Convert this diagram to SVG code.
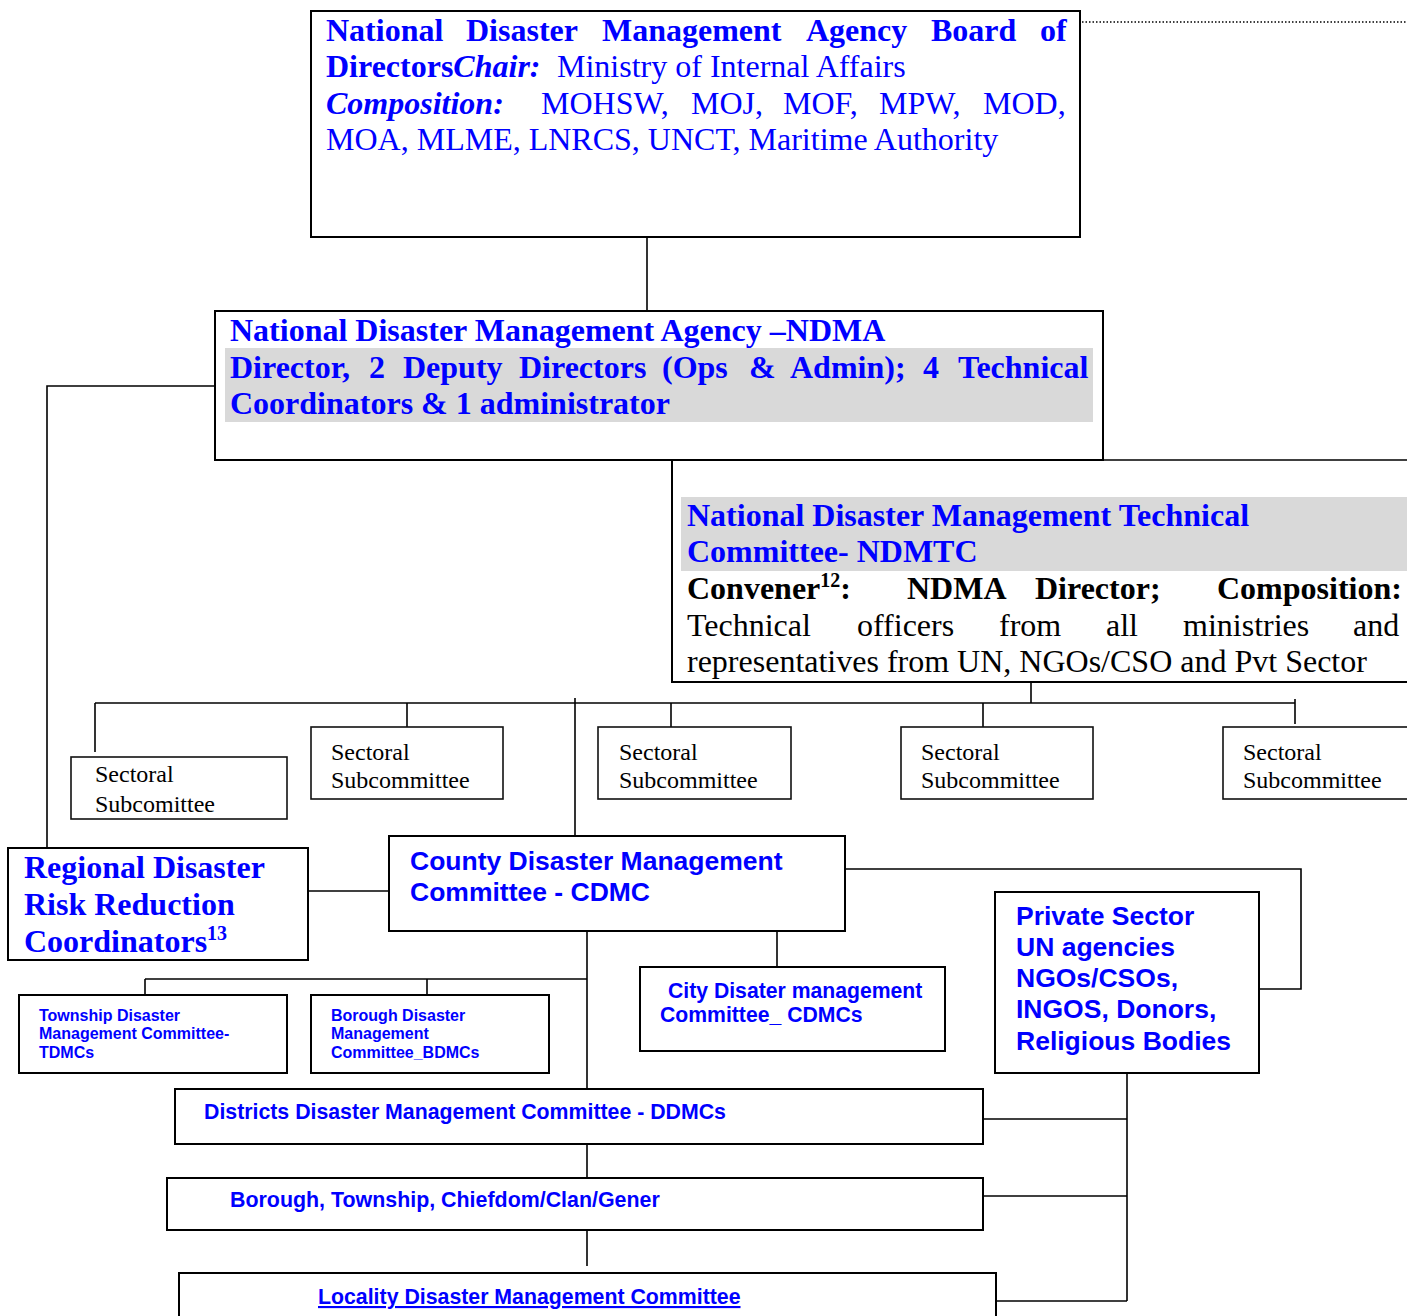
<svg xmlns="http://www.w3.org/2000/svg" width="1407" height="1316" viewBox="0 0 1407 1316">
<style>
.box{fill:#fff;stroke:#000;stroke-width:2}
.sbox{fill:#fff;stroke:#111;stroke-width:1.6}
.ln{stroke:#000;stroke-width:1.6;fill:none}
.ser{font-family:"Liberation Serif","Times New Roman",serif}
.san{font-family:"Liberation Sans",Arial,sans-serif;font-weight:bold;fill:#0000ff}
.blue{fill:#0000ff}
.blk{fill:#000}
.b{font-weight:bold}
.i{font-style:italic}
.s32{font-size:32px}
.s24{font-size:24px}
</style>
<rect width="1407" height="1316" fill="#fff"/>
<g id="connectors">
<line class="ln" x1="1082" y1="22" x2="1407" y2="22" stroke-dasharray="1.5,2" stroke-width="1.5"/>
<line class="ln" x1="647" y1="237" x2="647" y2="311"/>
<polyline class="ln" points="215,386 47,386 47,848"/>
<line class="ln" x1="1031" y1="682" x2="1031" y2="703"/>
<line class="ln" x1="95" y1="703" x2="1295" y2="703"/>
<line class="ln" x1="95" y1="703" x2="95" y2="752"/>
<line class="ln" x1="407" y1="703" x2="407" y2="727"/>
<line class="ln" x1="671" y1="703" x2="671" y2="727"/>
<line class="ln" x1="983" y1="703" x2="983" y2="727"/>
<line class="ln" x1="1295" y1="699" x2="1295" y2="724"/>
<line class="ln" x1="575" y1="698" x2="575" y2="836"/>
<line class="ln" x1="308" y1="891" x2="389" y2="891"/>
<polyline class="ln" points="845,869 1301,869 1301,989 1259,989"/>
<line class="ln" x1="777" y1="931" x2="777" y2="967"/>
<line class="ln" x1="587" y1="931" x2="587" y2="1089"/>
<line class="ln" x1="145" y1="979" x2="587" y2="979"/>
<line class="ln" x1="145" y1="979" x2="145" y2="995"/>
<line class="ln" x1="427" y1="979" x2="427" y2="995"/>
<line class="ln" x1="587" y1="1144" x2="587" y2="1178"/>
<line class="ln" x1="587" y1="1230" x2="587" y2="1266"/>
<line class="ln" x1="1127" y1="1073" x2="1127" y2="1301"/>
<line class="ln" x1="983" y1="1119" x2="1127" y2="1119"/>
<line class="ln" x1="983" y1="1196" x2="1127" y2="1196"/>
<line class="ln" x1="990" y1="1301" x2="1127" y2="1301"/>
</g>
<g id="board">
<rect class="box" x="311" y="11" width="769" height="226"/>
<text class="ser s32 blue b" y="41"><tspan x="326">National</tspan><tspan x="466">Disaster</tspan><tspan x="602">Management</tspan><tspan x="806">Agency</tspan><tspan x="931">Board</tspan><tspan x="1040">of</tspan></text>
<text class="ser s32 blue" y="77"><tspan x="326" font-weight="bold">Directors</tspan><tspan font-weight="bold" font-style="italic">Chair:</tspan><tspan x="557">Ministry of Internal Affairs</tspan></text>
<text class="ser s32 blue" y="114"><tspan x="326" font-weight="bold" font-style="italic">Composition:</tspan><tspan x="541">MOHSW,</tspan><tspan x="691">MOJ,</tspan><tspan x="783">MOF,</tspan><tspan x="879">MPW,</tspan><tspan x="983">MOD,</tspan></text>
<text class="ser s32 blue" x="326" y="150">MOA, MLME, LNRCS, UNCT, Maritime Authority</text>
</g>
<g id="ndma">
<rect class="box" x="215" y="311" width="888" height="149"/>
<rect x="225" y="348" width="868" height="74" fill="#d9d9d9"/>
<text class="ser s32 blue b" x="230" y="341">National Disaster Management Agency –NDMA</text>
<text class="ser s32 blue b" y="378"><tspan x="230">Director,</tspan><tspan x="369">2</tspan><tspan x="403">Deputy</tspan><tspan x="519">Directors</tspan><tspan x="662">(Ops</tspan><tspan x="749">&amp;</tspan><tspan x="790">Admin);</tspan><tspan x="923">4</tspan><tspan x="958">Technical</tspan></text>
<text class="ser s32 blue b" x="230" y="414">Coordinators &amp; 1 administrator</text>
</g>
<g id="ndmtc">
<polyline class="box" points="1103,460 672,460 672,682 1410,682" style="fill:none"/>
<line class="ln" x1="1103" y1="460" x2="1407" y2="460" stroke-width="2"/>
<rect x="681" y="497" width="726" height="74" fill="#d9d9d9"/>
<text class="ser s32 blue b" x="687" y="526">National Disaster Management Technical</text>
<text class="ser s32 blue b" x="687" y="562">Committee- NDMTC</text>
<text class="ser s32 blk b" y="599"><tspan x="687">Convener</tspan><tspan font-size="20" dy="-12">12</tspan><tspan dy="12">:</tspan><tspan x="907">NDMA</tspan><tspan x="1035">Director;</tspan><tspan x="1217">Composition:</tspan></text>
<text class="ser s32 blk" y="636"><tspan x="687">Technical</tspan><tspan x="857">officers</tspan><tspan x="999">from</tspan><tspan x="1106">all</tspan><tspan x="1183">ministries</tspan><tspan x="1353">and</tspan></text>
<text class="ser s32 blk" x="687" y="672">representatives from UN, NGOs/CSO and Pvt Sector</text>
</g>
<g id="sect1">
<rect class="sbox" x="71" y="757" width="216" height="62"/>
<text class="ser s24 blk" x="95" y="782">Sectoral</text>
<text class="ser s24 blk" x="95" y="812">Subcomittee</text>
</g>
<g id="sect2">
<rect class="sbox" x="311" y="727" width="192" height="72"/>
<text class="ser s24 blk" x="331" y="760">Sectoral</text>
<text class="ser s24 blk" x="331" y="788">Subcommittee</text>
</g>
<g id="sect3">
<rect class="sbox" x="598" y="727" width="193" height="72"/>
<text class="ser s24 blk" x="619" y="760">Sectoral</text>
<text class="ser s24 blk" x="619" y="788">Subcommittee</text>
</g>
<g id="sect4">
<rect class="sbox" x="901" y="727" width="192" height="72"/>
<text class="ser s24 blk" x="921" y="760">Sectoral</text>
<text class="ser s24 blk" x="921" y="788">Subcommittee</text>
</g>
<g id="sect5">
<rect class="sbox" x="1223" y="727" width="190" height="72"/>
<text class="ser s24 blk" x="1243" y="760">Sectoral</text>
<text class="ser s24 blk" x="1243" y="788">Subcommittee</text>
</g>
<g id="regional">
<rect class="box" x="8" y="848" width="300" height="112"/>
<text class="ser s32 blue b" x="24" y="878">Regional Disaster</text>
<text class="ser s32 blue b" x="24" y="915">Risk Reduction</text>
<text class="ser s32 blue b" x="24" y="952">Coordinators<tspan font-size="20" dy="-12">13</tspan></text>
</g>
<g id="county">
<rect class="box" x="389" y="836" width="456" height="95"/>
<text class="san" font-size="26.5" x="410" y="870">County Disaster Management</text>
<text class="san" font-size="26.5" x="410" y="901">Committee - CDMC</text>
</g>
<g id="private">
<rect class="box" x="995" y="892" width="264" height="181"/>
<text class="san" font-size="26.5" x="1016" y="925">Private Sector</text>
<text class="san" font-size="26.5" x="1016" y="956">UN agencies</text>
<text class="san" font-size="26.5" x="1016" y="987">NGOs/CSOs,</text>
<text class="san" font-size="26.5" x="1016" y="1018">INGOS, Donors,</text>
<text class="san" font-size="26.5" x="1016" y="1050">Religious Bodies</text>
</g>
<g id="city">
<rect class="box" x="640" y="967" width="305" height="84"/>
<text class="san" font-size="21.2" x="668" y="998">City Disater management</text>
<text class="san" font-size="21.2" x="660" y="1022">Committee_ CDMCs</text>
</g>
<g id="township">
<rect class="box" x="19" y="995" width="268" height="78"/>
<text class="san" font-size="16" x="39" y="1021">Township Disaster</text>
<text class="san" font-size="16" x="39" y="1039">Management Committee-</text>
<text class="san" font-size="16" x="39" y="1058">TDMCs</text>
</g>
<g id="borough">
<rect class="box" x="311" y="995" width="238" height="78"/>
<text class="san" font-size="16" x="331" y="1021">Borough Disaster</text>
<text class="san" font-size="16" x="331" y="1039">Management</text>
<text class="san" font-size="16" x="331" y="1058">Committee_BDMCs</text>
</g>
<g id="districts">
<rect class="box" x="175" y="1089" width="808" height="55"/>
<text class="san" font-size="21.3" x="204" y="1119">Districts Disaster Management Committee - DDMCs</text>
</g>
<g id="btc">
<rect class="box" x="167" y="1178" width="816" height="52"/>
<text class="san" font-size="21.4" x="230" y="1207">Borough, Township, Chiefdom/Clan/Gener</text>
</g>
<g id="locality">
<rect class="box" x="179" y="1273" width="817" height="60"/>
<text class="san" font-size="21.3" x="318" y="1304" text-decoration="underline">Locality Disaster Management Committee</text>
</g>
</svg>
